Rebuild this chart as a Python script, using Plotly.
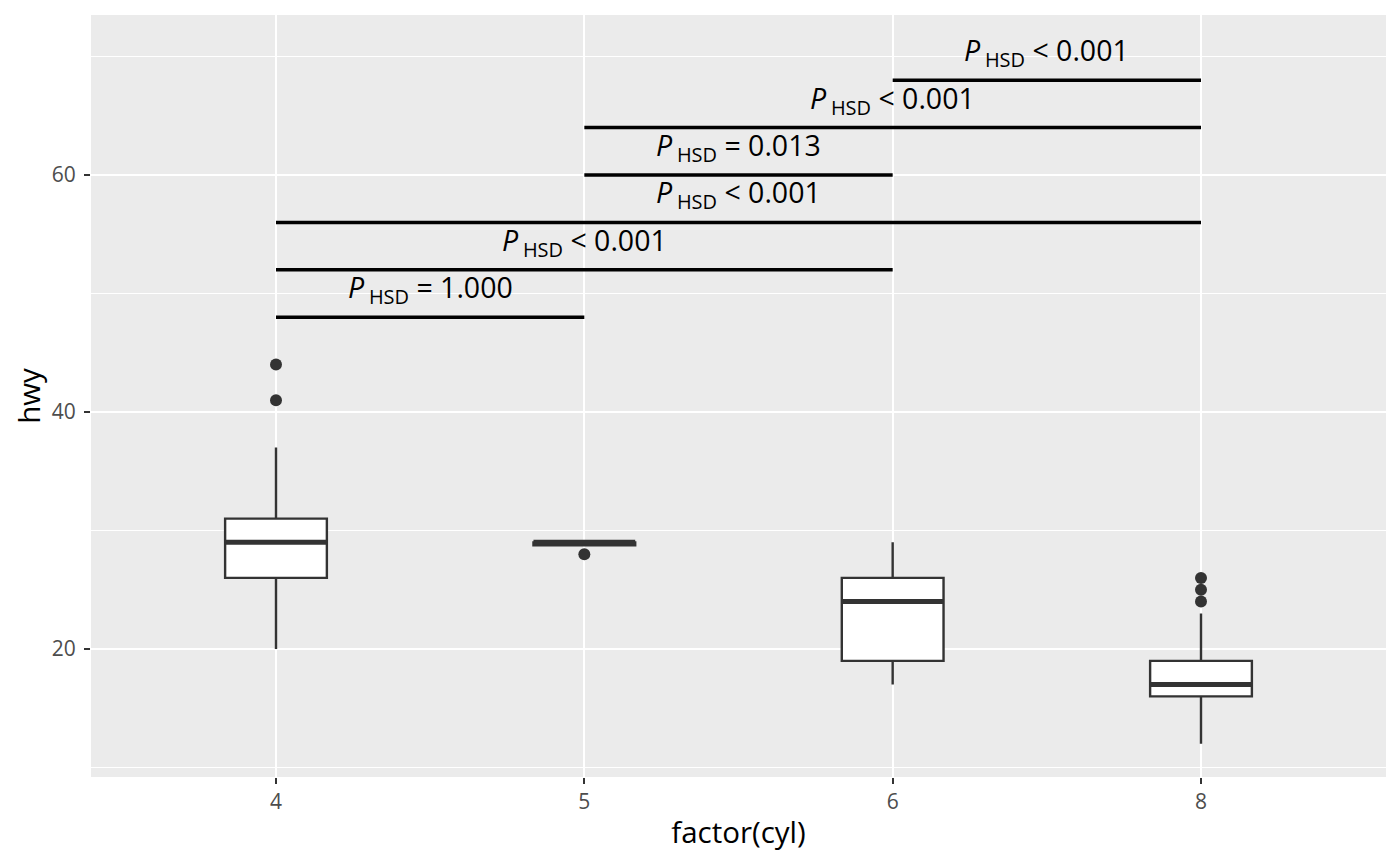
import plotly.graph_objects as go

# box statistics of hwy by cylinder count
cyl_labels = ["4", "5", "6", "8"]
cyl_pos = [0, 1, 2, 3]
q1 = [26, 28.75, 19, 16]
median = [29, 29, 24, 17]
q3 = [31, 29, 26, 19]
lower = [20, 28.75, 17, 12]
upper = [37, 29, 29, 23]

# outliers
out_x = [0, 0, 1, 3, 3, 3]
out_y = [44, 41, 28, 26, 25, 24]

# pairwise Tukey HSD comparisons
cmp_start = [0, 0, 0, 1, 1, 2]
cmp_end = [1, 2, 3, 2, 3, 3]
cmp_y = [48, 52, 56, 60, 64, 68]
cmp_label = ["= 1.000", "< 0.001", "< 0.001", "= 0.013", "< 0.001", "< 0.001"]

box_w = 0.33
ink = "#333333"

fig = go.Figure()

fig.add_trace(go.Box(
    x=cyl_pos, q1=q1, median=median, q3=q3,
    lowerfence=lower, upperfence=upper,
    width=box_w, whiskerwidth=0,
    fillcolor="white", line=dict(color=ink, width=2.4),
    boxpoints=False, hoverinfo="skip", showlegend=False,
))

# thicker median line like ggplot
for i in range(len(cyl_pos)):
    fig.add_trace(go.Scatter(
        x=[cyl_pos[i] - box_w / 2, cyl_pos[i] + box_w / 2],
        y=[median[i], median[i]],
        mode="lines", line=dict(color=ink, width=5),
        showlegend=False, hoverinfo="skip",
    ))

fig.add_trace(go.Scatter(
    x=out_x, y=out_y, mode="markers",
    marker=dict(color=ink, size=12),
    showlegend=False, hoverinfo="skip",
))

for i in range(len(cmp_y)):
    fig.add_trace(go.Scatter(
        x=[cmp_start[i], cmp_end[i]], y=[cmp_y[i], cmp_y[i]],
        mode="lines", line=dict(color="black", width=3.5),
        showlegend=False, hoverinfo="skip",
    ))
    fig.add_annotation(
        x=(cmp_start[i] + cmp_end[i]) / 2, y=cmp_y[i],
        text="<i>P</i>\u2009<sub>HSD</sub> " + cmp_label[i],
        showarrow=False, yanchor="middle", yshift=28,
        font=dict(family="Open Sans", size=28.5, color="black"),
    )

# page body adds an 8px offset, margins compensate for it
fig.update_layout(
    width=1400, height=866,
    margin=dict(l=83, r=22, t=7, b=97),
    paper_bgcolor="white", plot_bgcolor="#EBEBEB",
    font=dict(family="Open Sans"),
    xaxis=dict(
        range=[-0.6, 3.6], tickvals=cyl_pos, ticktext=cyl_labels,
        showgrid=True, gridcolor="white", gridwidth=2, zeroline=False,
        ticks="outside", ticklen=6, tickwidth=2, tickcolor=ink,
        tickfont=dict(size=21, color="#4D4D4D"),
        title=dict(text="factor(cyl)", font=dict(size=29.5, color="black"), standoff=8),
    ),
    yaxis=dict(
        range=[9.2, 73.5], tick0=0, dtick=20,
        showgrid=True, gridcolor="white", gridwidth=2, zeroline=False,
        minor=dict(dtick=10, tick0=0, showgrid=True, gridcolor="white", gridwidth=1),
        ticks="outside", ticklen=6, tickwidth=2, tickcolor=ink,
        ticklabelstandoff=4,
        tickfont=dict(size=21, color="#4D4D4D"),
        title=dict(text="hwy", font=dict(size=29.5, color="black"), standoff=8),
    ),
)

fig.write_html("out.html")
